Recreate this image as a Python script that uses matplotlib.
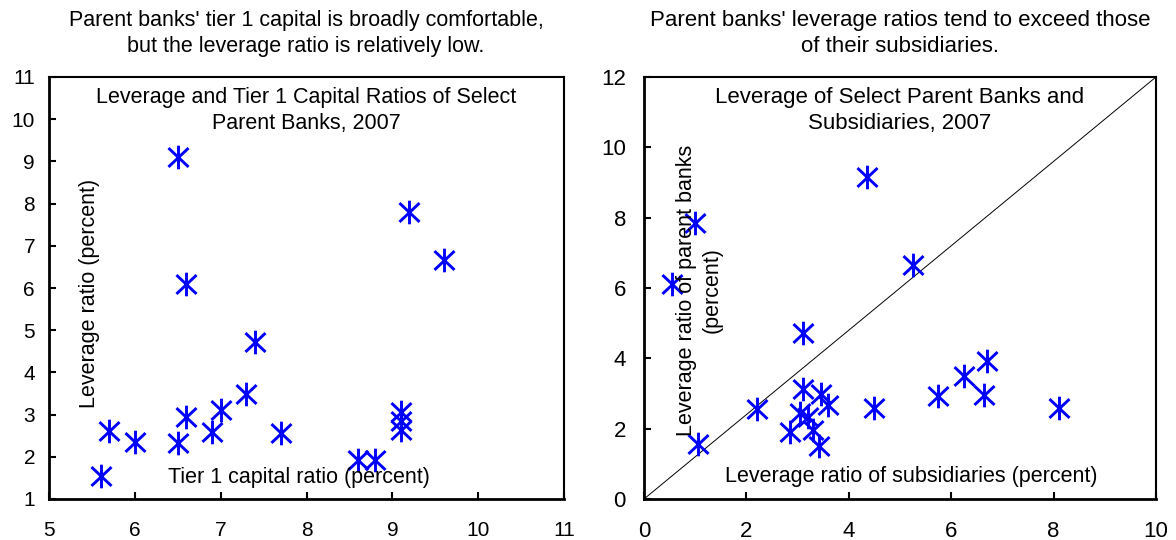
import matplotlib
matplotlib.use("Agg")
import matplotlib.pyplot as plt
from matplotlib.path import Path

plt.rcParams["font.family"] = ["Liberation Sans", "DejaVu Sans"]
plt.rcParams["font.size"] = 15

# left panel: tier 1 capital ratio vs leverage ratio of parent banks
tier1 = [5.6, 5.7, 6.0, 6.5, 6.5, 6.6, 6.6, 6.9, 7.0, 7.3, 7.4, 7.7,
         8.6, 8.8, 9.1, 9.1, 9.1, 9.2, 9.6]
lev_parent_l = [1.55, 2.6, 2.35, 9.1, 2.33, 6.1, 2.95, 2.58, 3.12, 3.5, 4.72, 2.56,
                1.93, 1.93, 3.05, 2.84, 2.64, 7.8, 6.66]

# right panel: subsidiaries vs parent banks leverage
lev_sub = [0.55, 1.0, 1.05, 2.2, 2.85, 3.05, 3.2, 3.1, 3.1, 3.3, 3.42,
           3.45, 3.6, 4.35, 4.5, 5.25, 5.75, 6.25, 6.65, 6.7, 8.1]
lev_parent_r = [6.12, 7.86, 1.57, 2.56, 1.9, 2.45, 2.33, 3.13, 4.72, 1.97, 1.52,
                3.0, 2.68, 9.15, 2.6, 6.65, 2.94, 3.51, 2.97, 3.93, 2.6]
diag_x = [0, 10]
diag_y = [0, 12]

BLUE = "#0000ff"
# MATLAB-style asterisk: vertical bar plus an X
star = Path([(0, -1), (0, 1), (-0.85, -0.8), (0.85, 0.8), (-0.85, 0.8), (0.85, -0.8)],
            [Path.MOVETO, Path.LINETO] * 3)

W, H = 1176, 540
fig = plt.figure(figsize=(W / 100, H / 100), dpi=100)
axl = fig.add_axes([49 / W, 41 / H, 515 / W, 422 / H])
axr = fig.add_axes([644 / W, 41 / H, 512 / W, 422 / H])


def style(ax, lsize):
    for side in ("left", "bottom"):
        ax.spines[side].set_linewidth(2.0)
    for side in ("top", "right"):
        ax.spines[side].set_linewidth(1.5)
    ax.tick_params(direction="in", length=5, width=1.5, top=False, right=False,
                   labelsize=lsize)
    ax.tick_params(axis="x", pad=16)


axl.plot(tier1, lev_parent_l, ls="none", marker=star, ms=17, mew=2.1, color=BLUE)
axl.set_xlim(5, 11)
axl.set_ylim(1, 11)
axl.set_xticks(range(5, 12))
axl.set_yticks(range(1, 12))
style(axl, 15)
axl.tick_params(axis="y", pad=10)
axl.text(0.5, 0.9206, "Leverage and Tier 1 Capital Ratios of Select\nParent Banks, 2007",
         transform=axl.transAxes, ha="center", va="center", linespacing=1.32, fontsize=15.5)
axl.text(5.47, 5.86, "Leverage ratio (percent)", rotation=90, ha="center", va="center",
         fontsize=15.5)
axl.text(7.91, 1.5, "Tier 1 capital ratio (percent)", ha="center", va="center",
         fontsize=15.5)
fig.text(306 / W, 1 - 33.5 / H,
         "Parent banks' tier 1 capital is broadly comfortable,\nbut the leverage ratio is relatively low.",
         ha="center", va="center", linespacing=1.32, fontsize=15.5)

axr.plot(diag_x, diag_y, color="black", lw=0.7)
axr.plot(lev_sub, lev_parent_r, ls="none", marker=star, ms=17, mew=2.1, color=BLUE)
axr.set_xlim(0, 10)
axr.set_ylim(0, 12)
axr.set_xticks(range(0, 11, 2))
axr.set_yticks(range(0, 13, 2))
style(axr, 16)
axr.tick_params(axis="y", pad=13)
axr.text(0.5, 0.9206, "Leverage of Select Parent Banks and\nSubsidiaries, 2007",
         transform=axr.transAxes, ha="center", va="center", linespacing=1.3, fontsize=16)
axr.text(1.08, 5.94, "Leverage ratio of parent banks\n(percent)", rotation=90,
         ha="center", va="center", multialignment="center", linespacing=1.32,
         fontsize=15.5)
axr.text(5.21, 0.63, "Leverage ratio of subsidiaries (percent)", ha="center", va="center",
         fontsize=15.5)
fig.text(900 / W, 1 - 33.5 / H,
         "Parent banks' leverage ratios tend to exceed those\nof their subsidiaries.",
         ha="center", va="center", linespacing=1.29, fontsize=16)

fig.savefig("out.png", dpi=100)
